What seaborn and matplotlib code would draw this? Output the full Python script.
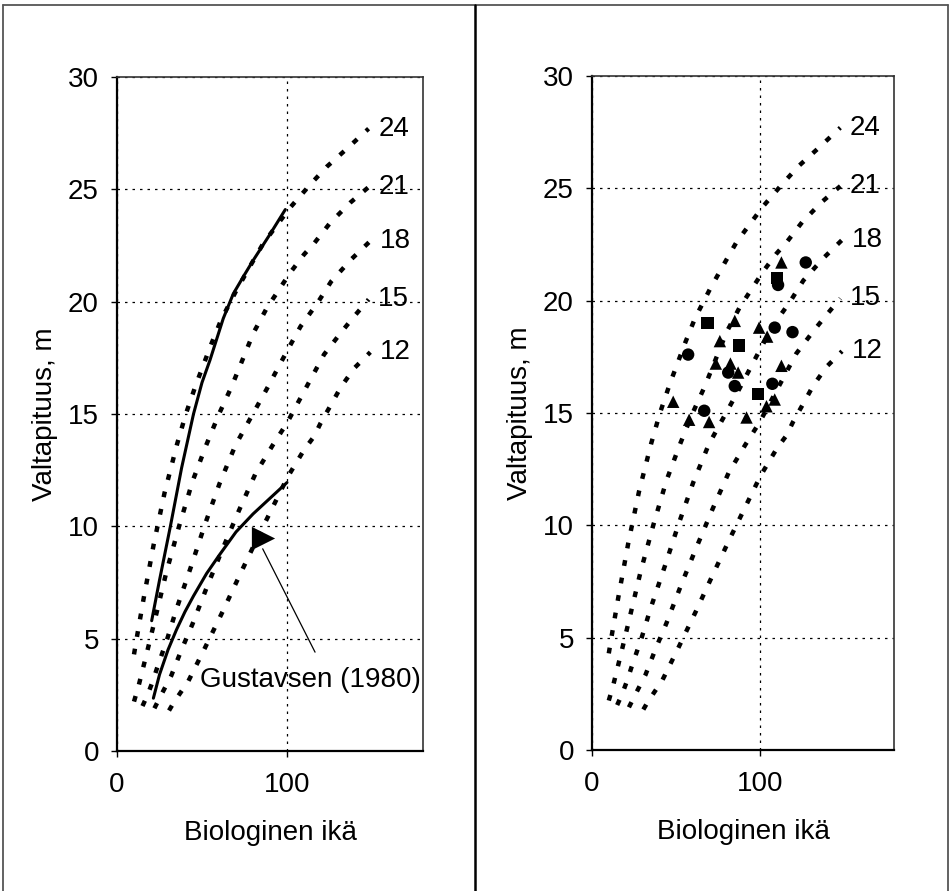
import matplotlib
matplotlib.use("Agg")
import matplotlib.pyplot as plt
from matplotlib.lines import Line2D
import pandas as pd
import seaborn as sns

sns.set_theme(style="white")
plt.rcParams["font.family"] = ["Liberation Sans", "DejaVu Sans"]

# Site index curves (H100): biological age (years) -> dominant height (m)
si_labels = ["24", "21", "18", "15", "12"]

age_24 = [10, 12, 15.7, 21.6, 28, 35.3, 40.5, 46.4, 55.4, 61.3, 70.2, 79.2, 86.1, 95, 102, 113.5, 123.3, 135.1, 148]
h_24 = [4.3, 5.2, 6.8, 9.2, 11.5, 13.65, 15.0, 16.3, 18.1, 19.2, 20.5, 21.7, 22.6, 23.5, 24.2, 25.2, 26.0, 26.8, 27.7]

age_21 = [10, 12.7, 17.5, 22, 29, 36.5, 44.4, 52.4, 60, 67.3, 74.3, 80.2, 88, 95, 102, 110, 116, 125.3, 137.1, 148]
h_21 = [2.2, 2.9, 4.35, 5.75, 7.95, 10.0, 12.0, 13.6, 15.0, 16.2, 17.5, 18.6, 19.7, 20.5, 21.3, 22.1, 22.6, 23.5, 24.4, 25.1]

age_18 = [15, 18, 21, 23.6, 29.6, 34.9, 43.5, 51.8, 60.3, 69.6, 76.2, 88, 100, 108, 118, 126, 138, 149]
h_18 = [2.0, 2.5, 3.1, 3.7, 5.0, 6.3, 8.2, 10.1, 11.9, 13.6, 14.5, 16.1, 17.8, 18.9, 19.95, 20.9, 21.9, 22.7]

age_15 = [22, 25, 31.9, 37.9, 44.4, 53.4, 62.7, 72, 81.5, 91.5, 100, 105, 110, 121.8, 131.5, 139, 148]
h_15 = [1.9, 2.35, 3.35, 4.5, 5.65, 7.4, 9.1, 10.75, 12.35, 13.6, 14.6, 15.3, 16.0, 17.65, 18.6, 19.3, 20.1]

age_12 = [30.6, 33.3, 41.9, 51.8, 62.1, 72, 82.1, 91.9, 100.4, 110, 115.9, 119.8, 125.8, 131.7, 139.7, 149]
h_12 = [1.8, 2.15, 3.1, 4.6, 6.2, 7.8, 9.4, 10.9, 12.2, 13.4, 14.0, 14.6, 15.4, 16.2, 17.05, 17.75]

curve_ages = [age_24, age_21, age_18, age_15, age_12]
curve_heights = [h_24, h_21, h_18, h_15, h_12]

# Published height curves (solid lines, left panel)
upper_age = [20.4, 25, 31.4, 38, 45, 50, 54.7, 62.5, 68.4, 75, 80.2, 90, 99]
upper_h = [5.8, 7.6, 10.0, 12.6, 15.0, 16.4, 17.4, 19.25, 20.35, 21.2, 21.85, 23.0, 24.1]
gust_age = [21.4, 25, 30, 35, 40, 45, 52.7, 60, 70, 80, 90, 100]
gust_h = [2.35, 3.4, 4.5, 5.4, 6.2, 6.9, 7.9, 8.7, 9.75, 10.55, 11.25, 11.95]

# Gustavsen (1980) reference point and its label
gust_point_age = [85.7]
gust_point_h = [9.5]
gust_text = "Gustavsen (1980)"
gust_text_pos = (48.8, 3.15)
gust_leader_start = (116.5, 4.4)

# Measured stands (right panel)
tri_age = [112.9, 85.1, 99.6, 104.4, 76.2, 73.8, 82.5, 87.1, 112.9, 48.4, 108.9, 104.0, 57.9, 69.8, 92.1]
tri_h = [21.7, 19.1, 18.8, 18.4, 18.2, 17.2, 17.2, 16.8, 17.1, 15.5, 15.6, 15.3, 14.7, 14.6, 14.8]
circ_age = [127.4, 110.9, 108.9, 119.5, 57.3, 81.2, 85.1, 107.5, 66.9]
circ_h = [21.7, 20.7, 18.8, 18.6, 17.6, 16.8, 16.2, 16.3, 15.1]
sq_age = [110.3, 68.8, 87.7, 99.0]
sq_h = [21.0, 19.0, 18.0, 15.85]

obs = pd.DataFrame({
    "age": tri_age + circ_age + sq_age,
    "h": tri_h + circ_h + sq_h,
    "kind": ["tri"] * len(tri_age) + ["circ"] * len(circ_age) + ["sq"] * len(sq_age),
})

x_ticks = [0, 100]
y_ticks = [0, 5, 10, 15, 20, 25, 30]
x_label = "Biologinen ikä"
y_label = "Valtapituus, m"

FS = 20
W, H = 949, 891
fig = plt.figure(figsize=(W / 100, H / 100), dpi=100)
axL = fig.add_axes([117 / W, 140 / H, 306 / W, 674 / H])
axR = fig.add_axes([592 / W, 141 / H, 302 / W, 674 / H])

dotted = (0, (1.3, 2.7))

for ax in (axL, axR):
    for ages, hs, lab in zip(curve_ages, curve_heights, si_labels):
        sns.lineplot(x=ages, y=hs, ax=ax, color="black", lw=3.2,
                     linestyle=dotted, dash_capstyle="butt", sort=False)
        ax.annotate(lab, xy=(ages[-1], hs[-1]), xytext=(7, 0),
                    textcoords="offset points", ha="left", va="center",
                    fontsize=FS, color="black")
    ax.set_xlim(0, 180)
    ax.set_ylim(0, 30)
    ax.set_xticks(x_ticks)
    ax.set_yticks(y_ticks)
    ax.grid(True, color="black", lw=0.9, linestyle=(0, (2, 4)))
    ax.tick_params(axis="both", direction="out", length=4, width=1,
                   color="black", labelsize=FS, labelcolor="black")
    ax.tick_params(axis="x", pad=11, bottom=True)
    ax.tick_params(axis="y", pad=9, left=True)
    for side in ("left", "bottom"):
        ax.spines[side].set_color("black")
        ax.spines[side].set_linewidth(1.6)
    for side in ("top", "right"):
        ax.spines[side].set_color("#333333")
        ax.spines[side].set_linewidth(1.2)
    ax.set_facecolor("white")

# Left panel: solid height curves and Gustavsen marker
sns.lineplot(x=upper_age, y=upper_h, ax=axL, color="black", lw=2.2, sort=False)
sns.lineplot(x=gust_age, y=gust_h, ax=axL, color="black", lw=2.2, sort=False)
sns.scatterplot(x=gust_point_age, y=gust_point_h, ax=axL, marker=">", s=280,
                color="black", edgecolor="black", linewidth=0, zorder=5)
axL.annotate("", xy=(gust_point_age[0], gust_point_h[0] - 0.5), xytext=gust_leader_start,
             arrowprops=dict(arrowstyle="-", lw=0.9, color="black",
                             shrinkA=0, shrinkB=0))
axL.text(gust_text_pos[0], gust_text_pos[1], gust_text, fontsize=FS,
         ha="left", va="center", color="black")

# Right panel: measured stands
sns.scatterplot(data=obs, x="age", y="h", style="kind",
                markers={"tri": "^", "circ": "o", "sq": "s"},
                color="black", s=80, linewidth=0, legend=False, ax=axR, zorder=5)

for ax in (axL, axR):
    ax.set_xlabel(x_label, fontsize=FS, labelpad=16, color="black")
    ax.set_ylabel(y_label, fontsize=FS, labelpad=7, color="black")

# Outer frame and panel divider
frame_kw = dict(transform=fig.transFigure, color="#555555", lw=1.3)
fig.add_artist(Line2D([3 / W, 3 / W], [0, 1 - 5 / H], **frame_kw))
fig.add_artist(Line2D([947.5 / W, 947.5 / W], [0, 1 - 5 / H], **frame_kw))
fig.add_artist(Line2D([3 / W, 947.5 / W], [1 - 5 / H, 1 - 5 / H], **frame_kw))
fig.add_artist(Line2D([475 / W, 475 / W], [0, 1 - 5 / H],
                      transform=fig.transFigure, color="black", lw=1.8))

fig.savefig("out.png", dpi=100, facecolor="white")
